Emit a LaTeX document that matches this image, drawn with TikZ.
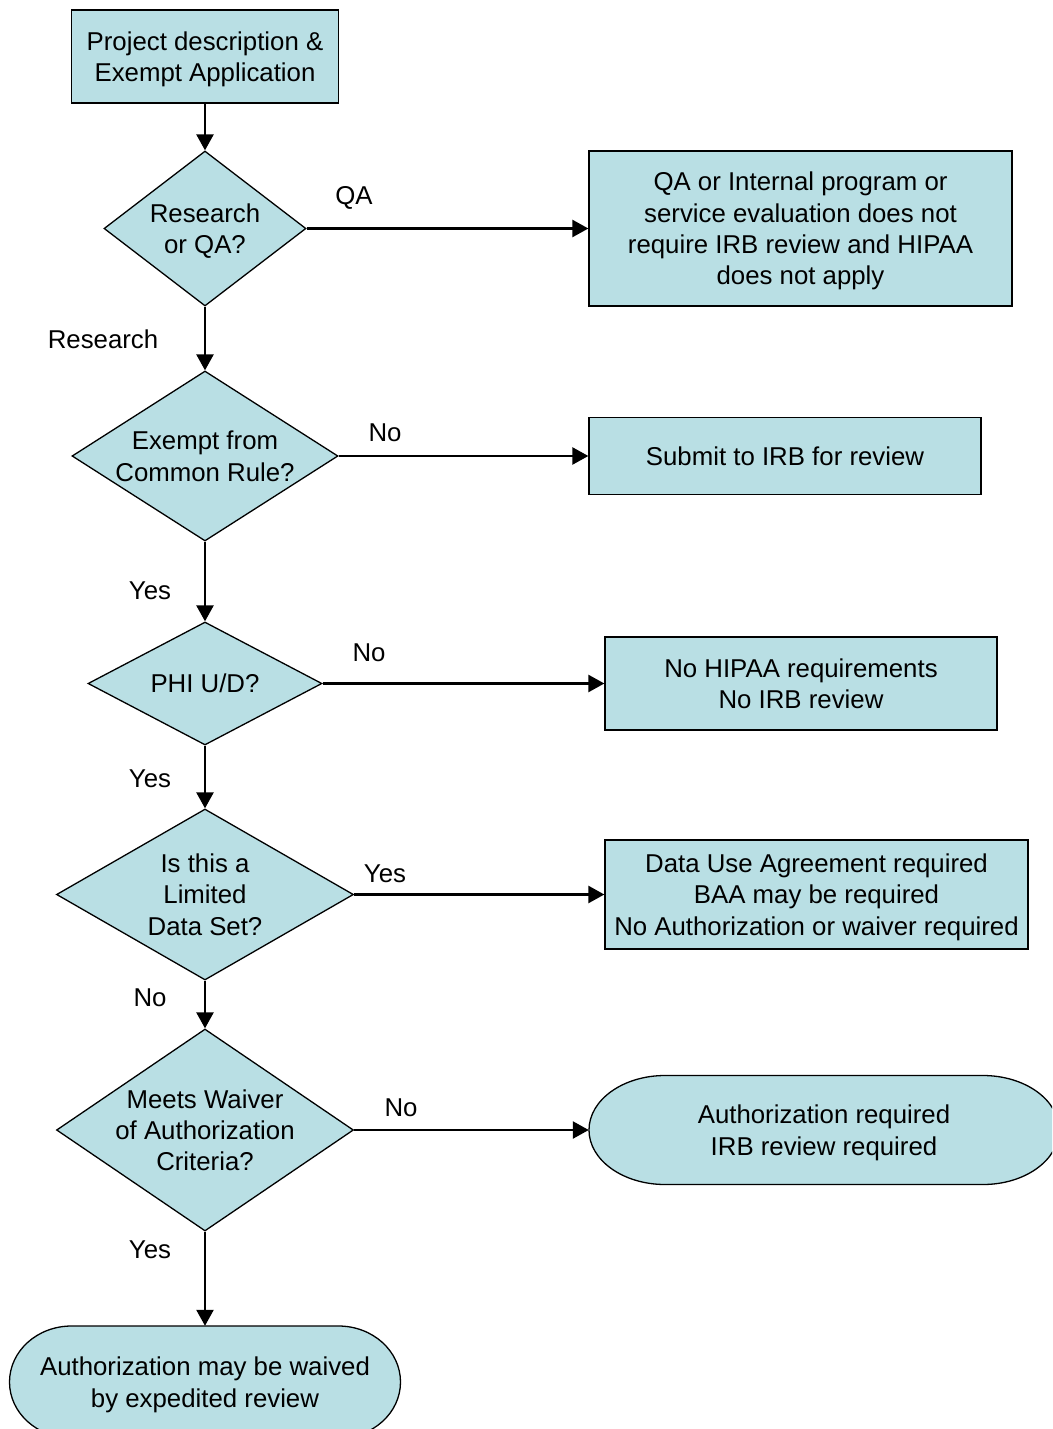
\documentclass[tikz,border=0pt]{standalone}
\usepackage{fontspec}
\setmainfont{Liberation Sans}
\usetikzlibrary{shapes.geometric,arrows.meta}
\definecolor{boxfill}{RGB}{185,223,228}
\tikzset{
  procbox/.style={draw=black, line width=1.3pt, fill=boxfill, inner sep=0pt, align=center, text depth=0pt},
  decision/.style={diamond, draw=black, line width=1.3pt, fill=boxfill, inner sep=-4pt, aspect=1.5, align=center, text depth=0pt},
  termshape/.style={draw=black, line width=1.3pt, fill=boxfill},
  termtext/.style={inner sep=0pt, align=center, text depth=0pt},
  oneline/.style={text height=18.8pt},
  twolines/.style={text height=50.1pt},
  threelines/.style={text height=81.4pt},
  fourlines/.style={text height=112.7pt},
  branch/.style={inner sep=0pt},
  flow/.style={line width=2.5pt, -{Triangle[length=16pt,width=17pt]}},
}
\begin{document}
\begin{tikzpicture}[x=1pt, y=1pt, every node/.style={text=black, font=\fontsize{25.8}{31.3}\selectfont}]
	\useasboundingbox (0,0) rectangle (1052,-1429);
	\clip (0,0) rectangle (1052,-1429);
	% terminal outlines
	\filldraw[termshape] (665,-1075.5) -- (983,-1075.5) arc[start angle=90, end angle=-90, x radius=76, y radius=54.5] -- (665,-1184.5) arc[start angle=270, end angle=90, x radius=76, y radius=54.5] -- cycle;
	\filldraw[termshape] (71.5,-1326) -- (338.5,-1326) arc[start angle=90, end angle=-90, x radius=62, y radius=56] -- (71.5,-1438) arc[start angle=270, end angle=90, x radius=62, y radius=56] -- cycle;
	% main column
	\node[procbox, twolines, minimum width=267pt, minimum height=93pt] (proj) at (205,-56.5) {Project description \&\\Exempt Application};
	\node[decision, twolines, minimum width=202pt, minimum height=155pt] (resqa) at (205,-228.5) {Research\\or QA?};
	\draw[flow] (proj) -- (resqa);
	\node[decision, twolines, minimum width=266pt, minimum height=170pt] (exempt) at (205,-456) {Exempt from\\Common Rule?};
	\draw[flow] (resqa) -- (exempt);
	\node[decision, oneline, minimum width=234pt, minimum height=123pt] (phi) at (205,-683.5) {PHI U/D?};
	\draw[flow] (exempt) -- (phi);
	\node[decision, threelines, minimum width=297pt, minimum height=171pt] (lds) at (205,-894.5) {Is this a\\Limited\\Data Set?};
	\draw[flow] (phi) -- (lds);
	\node[decision, threelines, minimum width=297pt, minimum height=202pt] (waiver) at (205,-1130) {Meets Waiver\\of Authorization\\Criteria?};
	\draw[flow] (lds) -- (waiver);
	\node[termtext, twolines, minimum width=391pt, minimum height=112pt] (authwaive) at (205,-1382) {Authorization may be waived\\by expedited review};
	\draw[flow] (waiver) -- (authwaive);
	% outcomes
	\node[procbox, fourlines, minimum width=423pt, minimum height=155pt] (qabox) at (800.5,-228.5) {QA or Internal program or\\service evaluation does not\\require IRB review and HIPAA\\does not apply};
	\draw[flow] (resqa) -- (qabox);
	\node[procbox, oneline, minimum width=392pt, minimum height=77pt] (irbsub) at (785,-456) {Submit to IRB for review};
	\draw[flow] (exempt) -- (irbsub);
	\node[procbox, twolines, minimum width=392pt, minimum height=93pt] (nohipaa) at (801,-683.5) {No HIPAA requirements\\No IRB review};
	\draw[flow] (phi) -- (nohipaa);
	\node[procbox, threelines, minimum width=423pt, minimum height=109pt] (dua) at (816.5,-894.5) {Data Use Agreement required\\BAA may be required\\No Authorization or waiver required};
	\draw[flow] (lds) -- (dua);
	\node[termtext, twolines, minimum width=470pt, minimum height=109pt] (authreq) at (824,-1130) {Authorization required\\IRB review required};
	\draw[flow] (waiver) -- (authreq);
	% branch labels
	\node[branch] (lqa) at (354,-198) {QA};
	\node[branch] (lres) at (103,-339) {Research};
	\node[branch] (lno1) at (385,-433) {No};
	\node[branch] (lyes1) at (150,-591) {Yes};
	\node[branch] (lno2) at (369,-653) {No};
	\node[branch] (lyes2) at (150,-779) {Yes};
	\node[branch] (lyes3) at (385,-874) {Yes};
	\node[branch] (lno3) at (150,-998) {No};
	\node[branch] (lno4) at (401,-1108) {No};
	\node[branch] (lyes4) at (150,-1250) {Yes};
\end{tikzpicture}
\end{document}
